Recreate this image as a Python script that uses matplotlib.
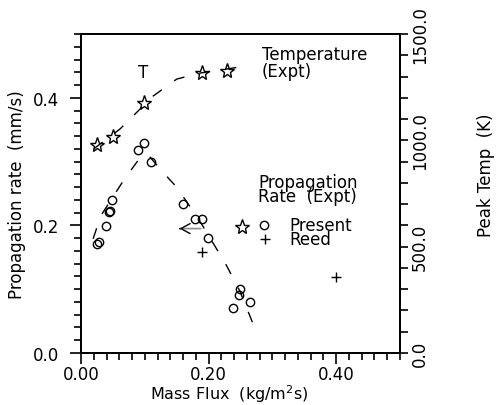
import matplotlib
matplotlib.use('Agg')
import matplotlib.pyplot as plt
from matplotlib.ticker import MultipleLocator

plt.rcParams['font.family'] = ['DejaVu Sans']
plt.rcParams['font.size'] = 12

# Propagation rate (Expt) - present measurements
present_flux = [0.025, 0.028, 0.039, 0.044, 0.046, 0.049, 0.089, 0.099, 0.110,
                0.160, 0.179, 0.190, 0.199, 0.249, 0.247, 0.238, 0.265]
present_rate = [0.171, 0.174, 0.199, 0.221, 0.222, 0.240, 0.318, 0.329, 0.300,
                0.234, 0.210, 0.210, 0.180, 0.100, 0.091, 0.071, 0.080]

# Reed data
reed_flux = [0.190, 0.399]
reed_rate = [0.158, 0.119]

# fitted trend for propagation rate
rate_fit_flux = [0.019, 0.031, 0.067, 0.091, 0.105, 0.125, 0.150, 0.186, 0.226, 0.249, 0.276]
rate_fit_rate = [0.179, 0.215, 0.271, 0.304, 0.311, 0.287, 0.260, 0.207, 0.141, 0.097, 0.030]

# Peak temperature (Expt)
temp_flux = [0.025, 0.050, 0.099, 0.190, 0.229, 0.252]
temp_peak = [978, 1016, 1175, 1316, 1326, 593]

# dashed trend for temperature
temp_fit_flux = [0.020, 0.061, 0.113, 0.150, 0.186, 0.249]
temp_fit_peak = [960, 1053, 1208, 1288, 1316, 1345]

fig = plt.figure(figsize=(4.96, 4.06), dpi=100)
ax = fig.add_axes([81 / 496, 52 / 406, 319 / 496, 319 / 406])
ax2 = ax.twinx()

dash = (0, (8, 11))
ax.plot(rate_fit_flux, rate_fit_rate, color='black', lw=1, linestyle=dash)
ax.plot(present_flux, present_rate, 'o', ms=6, mfc='none', mec='black', mew=1)
ax.plot(reed_flux, reed_rate, '+', ms=7, color='black', mew=1)

ax2.plot(temp_fit_flux, temp_fit_peak, color='black', lw=1, linestyle=dash)
ax2.plot(temp_flux, temp_peak, '*', ms=11, mfc='none', mec='black', mew=1)

# arrow pointing to the left axis
ax.annotate('', xy=(0.156, 0.195), xytext=(0.192, 0.195),
            arrowprops=dict(arrowstyle='-', color='0.55', lw=1.2))
ax.annotate('', xy=(0.150, 0.195), xytext=(0.160, 0.195),
            arrowprops=dict(arrowstyle='->,head_length=0.55,head_width=0.3',
                            color='black', lw=1))

ax.set_xlim(0, 0.5)
ax.set_ylim(0, 0.5)
ax2.set_ylim(0, 1500)

ax.xaxis.set_minor_locator(MultipleLocator(0.02))
ax.yaxis.set_minor_locator(MultipleLocator(0.02))
ax2.yaxis.set_minor_locator(MultipleLocator(100))

ax.set_xticks([0.0, 0.2, 0.4])
ax.set_xticklabels(['0.00', '0.20', '0.40'])
ax.set_yticks([0.0, 0.2, 0.4])
ax.set_yticklabels(['0.0', '0.2', '0.4'])
ax2.set_yticks([0, 500, 1000, 1500])
ax2.set_yticklabels(['0.0', '500.0', '1000.0', '1500.0'], rotation=90, va='center')

ax.tick_params(axis='both', which='major', direction='out', length=8, width=1.2)
ax.tick_params(axis='both', which='minor', direction='out', length=5, width=1.2)
ax.tick_params(axis='y', which='major', pad=8)
ax.tick_params(axis='x', which='major', pad=1)
ax2.tick_params(axis='y', which='major', direction='out', length=6, width=1.2, pad=2)
ax2.tick_params(axis='y', which='minor', direction='out', length=6, width=1.2)

for a in (ax, ax2):
    for s in a.spines.values():
        s.set_linewidth(1.3)

ax.set_xlabel('Mass Flux  (kg/m$^2$s)', fontsize=11.5)
ax.xaxis.set_label_coords(0.464, -0.092)
ax.set_ylabel('Propagation rate  (mm/s)')
ax.yaxis.set_label_coords(-0.172, 0.5)
ax2.set_ylabel('Peak Temp  (K)', rotation=90)
ax2.yaxis.set_label_coords(1.241, 0.561)

# annotations
ax.text(0.090, 0.440, 'T', ha='left', va='center')
ax.text(0.283, 0.455, 'Temperature\n(Expt)', ha='left', va='center', linespacing=0.95)
ax.text(0.278, 0.257, 'Propagation\nRate  (Expt)', ha='left', va='center', linespacing=0.78)
ax.plot([0.287], [0.201], 'o', ms=6, mfc='none', mec='black', mew=1)
ax.plot([0.288], [0.178], '+', ms=7, color='black', mew=1)
ax.text(0.327, 0.1895, 'Present\nReed', ha='left', va='center', linespacing=0.72)

fig.savefig('out.png', dpi=100)
